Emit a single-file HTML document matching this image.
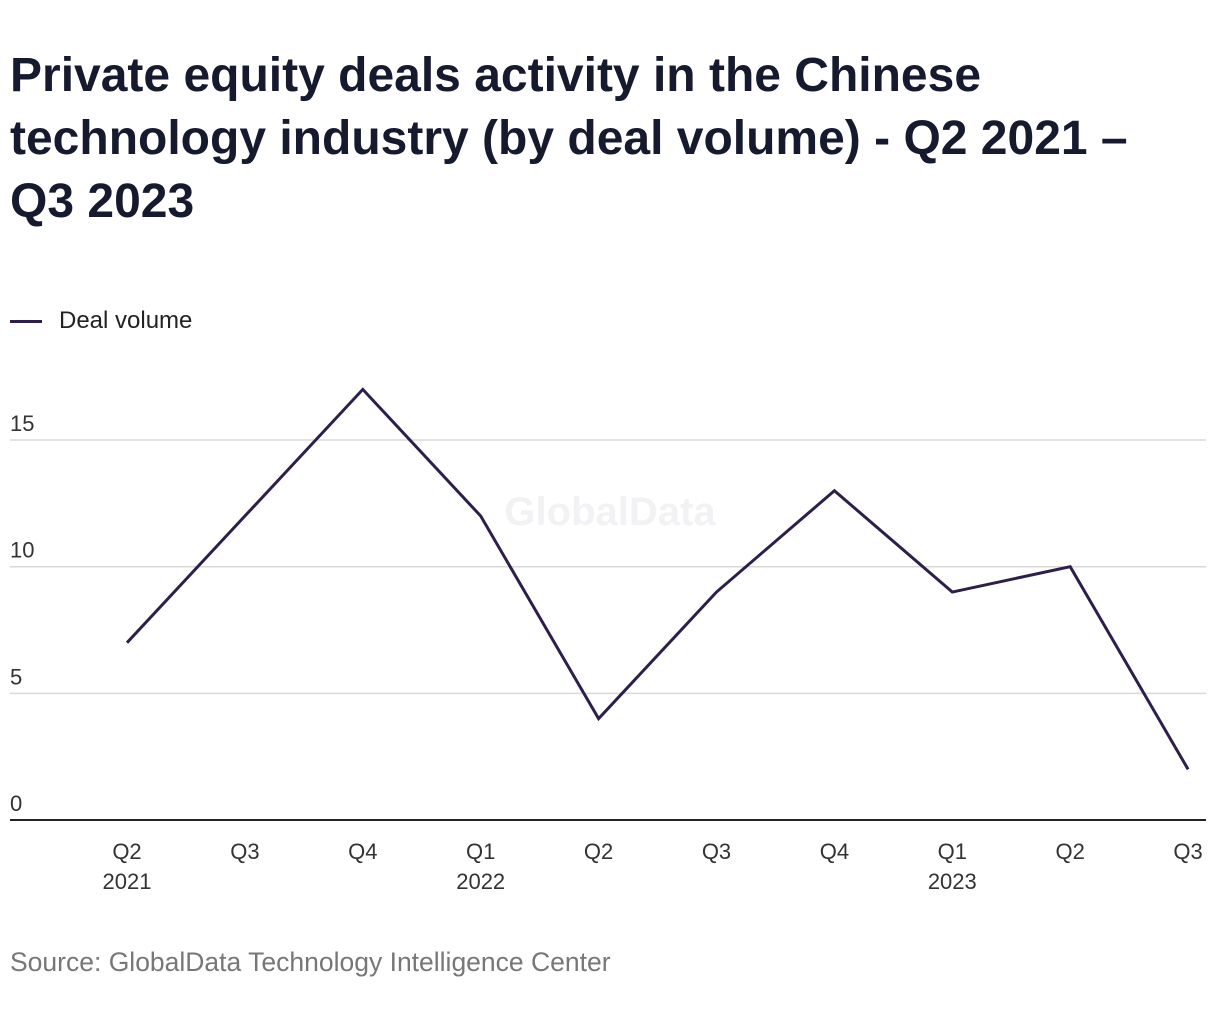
<!DOCTYPE html>
<html><head><meta charset="utf-8"><style>
body{margin:0;background:#fff;width:1220px;height:1020px;overflow:hidden;font-family:"Liberation Sans",sans-serif;}
#title{position:absolute;left:10px;top:44px;margin:0;font-size:48px;line-height:63px;font-weight:bold;color:#161a2e;width:1210px;white-space:nowrap;}
#legend{position:absolute;left:10px;top:307px;font-size:24px;color:#222;display:flex;align-items:center;}
#legend span.sw{display:inline-block;width:32px;height:3px;background:#2d1e4a;margin-right:17px;}
#source{position:absolute;left:10px;top:947px;font-size:26.5px;color:#777;}
svg{position:absolute;left:0;top:0;}
</style></head><body>
<h1 id="title">Private equity deals activity in the Chinese<br>technology industry (by deal volume) - Q2 2021 –<br>Q3 2023</h1>
<div id="legend"><span class="sw"></span>Deal volume</div>
<svg id="chart" width="1220" height="1020"></svg>
<div id="source">Source: GlobalData Technology Intelligence Center</div>
<script>
const quarters=["Q2","Q3","Q4","Q1","Q2","Q3","Q4","Q1","Q2","Q3"];
const years=["2021","","","2022","","","","2023","",""];
const dealVolume=[7,12,17,12,4,9,13,9,10,2];
const yTicks=[0,5,10,15];
const NS="http://www.w3.org/2000/svg";
const svg=document.getElementById('chart');
const x=i=>127+i*117.9;
const y=v=>820-v*25.33;
function el(t,a){const e=document.createElementNS(NS,t);for(const k in a)e.setAttribute(k,a[k]);svg.appendChild(e);return e;}
const wm=el('text',{x:610,y:525,'text-anchor':'middle','font-size':40,'font-weight':'bold',fill:'#f2f2f4','font-family':'Liberation Sans, sans-serif'});
wm.textContent='GlobalData';


yTicks.forEach(t=>{
  if(t>0){const g=el('line',{x1:10,x2:1206,y1:y(t),y2:y(t),stroke:'#d9d9d9','stroke-width':1.5});
  
  }
  const tx=el('text',{x:10,y:y(t)-9,'font-size':22,fill:'#333','font-family':'Liberation Sans, sans-serif'});
  tx.textContent=t;
  
  
});
const ax=el('line',{x1:10,x2:1206,y1:820,y2:820,stroke:'#222','stroke-width':2});


quarters.forEach((q,i)=>{
  const t=el('text',{x:x(i),y:859,'text-anchor':'middle','font-size':22,fill:'#333','font-family':'Liberation Sans, sans-serif'});
  t.textContent=q;
  
  
  if(years[i]){const t2=el('text',{x:x(i),y:889,'text-anchor':'middle','font-size':22,fill:'#333','font-family':'Liberation Sans, sans-serif'});
  t2.textContent=years[i];
  
  }
});
const line=el('polyline',{points:dealVolume.map((v,i)=>x(i)+','+y(v)).join(' '),fill:'none',stroke:'#2d1e4a','stroke-width':3,'stroke-linejoin':'miter'});


</script>
</body></html>
